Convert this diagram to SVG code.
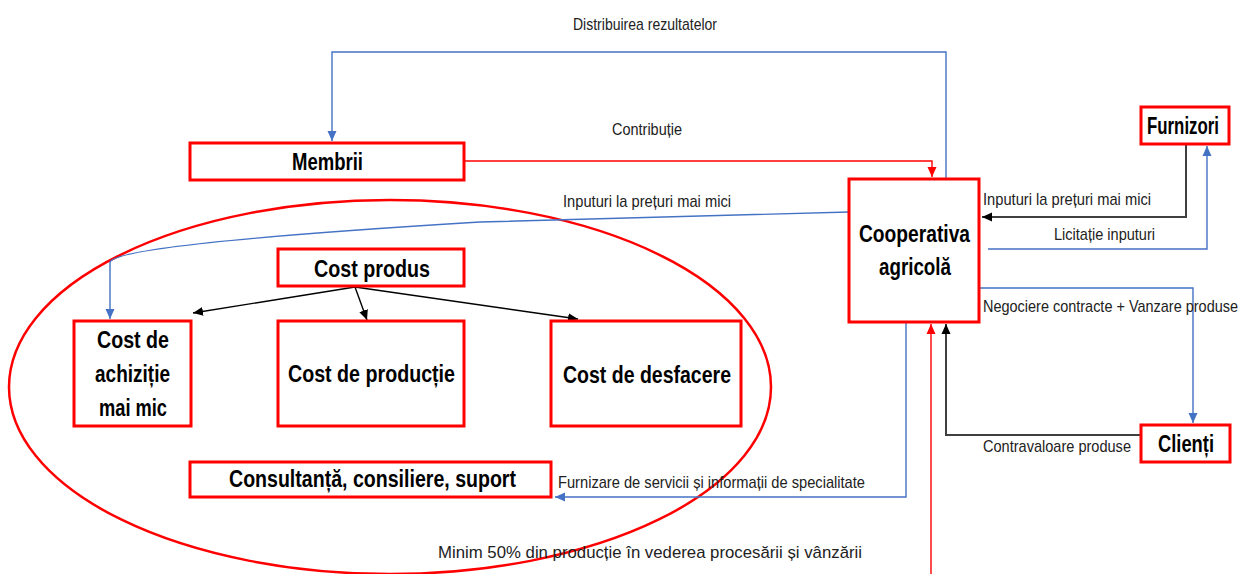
<svg xmlns="http://www.w3.org/2000/svg" width="1240" height="574" viewBox="0 0 1240 574">
<style>
.box{fill:#fff;stroke:#ff0000;stroke-width:3}
.nt{font-family:"Liberation Sans",Arial,sans-serif;font-weight:bold;font-size:23px;fill:#000}
.lb{font-family:"Liberation Sans",Arial,sans-serif;font-size:17px;fill:#222}
.blue{fill:none;stroke:#4472c4;stroke-width:1.4}
.red{fill:none;stroke:#ff0000;stroke-width:1.4}
.blk{fill:none;stroke:#000;stroke-width:1.4}
.gry{fill:none;stroke:#404040;stroke-width:2}
</style>
<defs>
<marker id="ab" markerUnits="userSpaceOnUse" markerWidth="10" markerHeight="10" refX="10" refY="5" orient="auto"><path d="M0,0.5 L10,5 L0,9.5z" fill="#4472c4"/></marker>
<marker id="ar" markerUnits="userSpaceOnUse" markerWidth="10" markerHeight="10" refX="10" refY="5" orient="auto"><path d="M0,0.5 L10,5 L0,9.5z" fill="#ff0000"/></marker>
<marker id="ak" markerUnits="userSpaceOnUse" markerWidth="10" markerHeight="10" refX="10" refY="5" orient="auto"><path d="M0,0.5 L10,5 L0,9.5z" fill="#000"/></marker>
</defs>
<rect width="1240" height="574" fill="#fff"/>

<ellipse id="group-ellipse" cx="390" cy="387" rx="381" ry="187" fill="none" stroke="#ff0000" stroke-width="2.5"/>

<g id="connectors">
<path class="blue" d="M946,179 V52 H332 V141" marker-end="url(#ab)"/>
<path class="red" d="M465,161 H932 V177" marker-end="url(#ar)"/>
<path class="blue" d="M849,212 L480,222 Q118,244 110,262 V319" marker-end="url(#ab)"/>
<path class="blk" d="M355,287 L193,313" marker-end="url(#ak)"/>
<path class="blk" d="M355,287 L367,320" marker-end="url(#ak)"/>
<path class="blk" d="M355,287 L578,319" marker-end="url(#ak)"/>
<path class="gry" d="M1186,145 V217 H982" marker-end="url(#ak)"/>
<path class="blue" d="M988,249 H1207 V146" marker-end="url(#ab)"/>
<path class="blue" d="M979,288 H1193 V423" marker-end="url(#ab)"/>
<path class="gry" d="M1141,435 H946 V324" marker-end="url(#ak)"/>
<path class="blue" d="M906,322 V497 H555" marker-end="url(#ab)"/>
<path class="red" d="M931,574 V324" marker-end="url(#ar)"/>
</g>

<g id="labels">
<text class="lb" x="573" y="30" textLength="144" lengthAdjust="spacingAndGlyphs">Distribuirea rezultatelor</text>
<text class="lb" x="612" y="135" textLength="70" lengthAdjust="spacingAndGlyphs">Contribuție</text>
<text class="lb" x="563" y="207" textLength="168" lengthAdjust="spacingAndGlyphs">Inputuri la prețuri mai mici</text>
<text class="lb" x="983" y="205" textLength="168" lengthAdjust="spacingAndGlyphs">Inputuri la prețuri mai mici</text>
<text class="lb" x="1054" y="240" textLength="101" lengthAdjust="spacingAndGlyphs">Licitație inputuri</text>
<text class="lb" x="983" y="312" textLength="255" lengthAdjust="spacingAndGlyphs">Negociere contracte + Vanzare produse</text>
<text class="lb" x="983" y="452" textLength="148" lengthAdjust="spacingAndGlyphs">Contravaloare produse</text>
<text class="lb" x="558" y="488" textLength="307" lengthAdjust="spacingAndGlyphs">Furnizare de servicii și informații de specialitate</text>
<text class="lb" x="438" y="558" textLength="424" lengthAdjust="spacingAndGlyphs">Minim 50% din producție în vederea procesării și vânzării</text>
</g>

<g id="membrii">
<rect class="box" x="190" y="143" width="274" height="37"/>
<text class="nt" x="292" y="170" textLength="71" lengthAdjust="spacingAndGlyphs">Membrii</text>
</g>
<g id="cost-produs">
<rect class="box" x="278" y="249" width="186" height="37"/>
<text class="nt" x="314" y="277" textLength="116" lengthAdjust="spacingAndGlyphs">Cost produs</text>
</g>
<g id="cost-achizitie">
<rect class="box" x="74" y="321" width="117" height="105"/>
<text class="nt" x="97" y="348" textLength="72" lengthAdjust="spacingAndGlyphs">Cost de</text>
<text class="nt" x="95" y="382" textLength="75" lengthAdjust="spacingAndGlyphs">achiziție</text>
<text class="nt" x="99" y="416" textLength="68" lengthAdjust="spacingAndGlyphs">mai mic</text>
</g>
<g id="cost-productie">
<rect class="box" x="278" y="321" width="186" height="105"/>
<text class="nt" x="288" y="382" textLength="167" lengthAdjust="spacingAndGlyphs">Cost de producție</text>
</g>
<g id="cost-desfacere">
<rect class="box" x="551" y="321" width="190" height="105"/>
<text class="nt" x="563" y="383" textLength="168" lengthAdjust="spacingAndGlyphs">Cost de desfacere</text>
</g>
<g id="consultanta">
<rect class="box" x="190" y="462" width="361" height="35"/>
<text class="nt" x="229" y="487" textLength="287" lengthAdjust="spacingAndGlyphs">Consultanță, consiliere, suport</text>
</g>
<g id="cooperativa">
<rect class="box" x="849" y="179" width="130" height="143"/>
<text class="nt" x="859" y="242" textLength="111" lengthAdjust="spacingAndGlyphs">Cooperativa</text>
<text class="nt" x="879" y="275" textLength="72" lengthAdjust="spacingAndGlyphs">agricolă</text>
</g>
<g id="furnizori">
<rect class="box" x="1141" y="107" width="88" height="37"/>
<text class="nt" x="1147" y="134" textLength="72" lengthAdjust="spacingAndGlyphs">Furnizori</text>
</g>
<g id="clienti">
<rect class="box" x="1141" y="425" width="89" height="37"/>
<text class="nt" x="1158" y="452" textLength="56" lengthAdjust="spacingAndGlyphs">Clienți</text>
</g>
</svg>
